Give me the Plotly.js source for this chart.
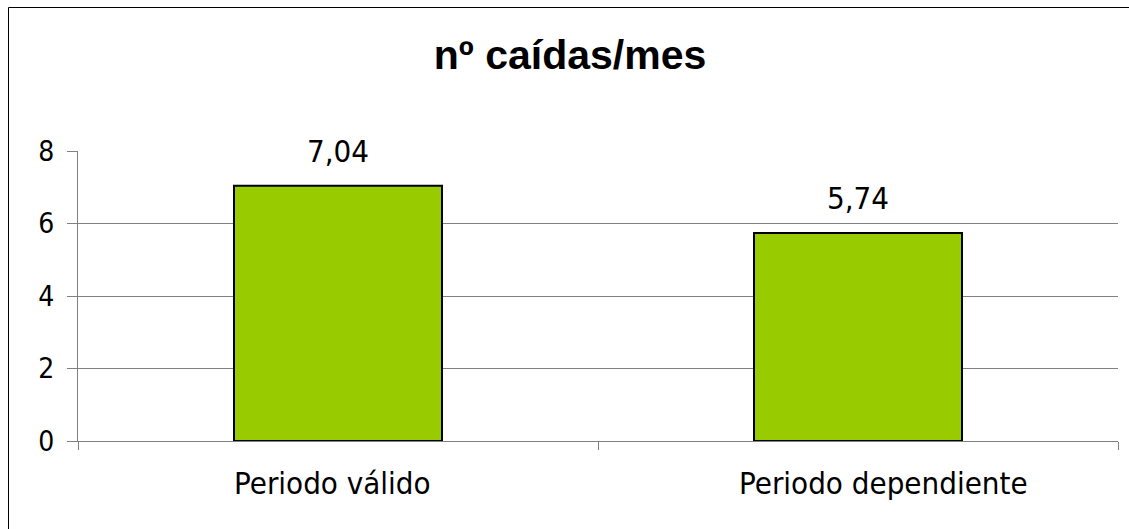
<!DOCTYPE html>
<html><head><meta charset="utf-8">
<script src="https://cdn.plot.ly/plotly-3.0.1.min.js"></script>
<style>html,body{margin:0;padding:0;background:#fff;}#chart{width:1129px;height:529px;}</style>
</head><body><div id="chart"></div>
<script>
const categories = ["Periodo válido", "Periodo dependiente"];
const values = [7.04, 5.74];
const valueLabels = ["7,04", "5,74"];
const yTicks = [0, 2, 4, 6, 8];
const chartTitle = "nº caídas/mes";

const FONT = "'DejaVu Sans Condensed', 'DejaVu Sans', sans-serif";
const labelShift = [-6, 25];
const trace = {
  type: 'bar', x: categories, y: values,
  marker: {color: '#99CC00', line: {color: '#000000', width: 2}},
  hoverinfo: 'none'
};
const valueAnn = categories.map((c, i) => ({
  x: c, y: values[i], xref: 'x', yref: 'y', text: valueLabels[i],
  showarrow: false, yanchor: 'bottom', yshift: 15,
  font: {family: FONT, size: 31, color: '#000'}
}));
const catAnn = categories.map((c, i) => ({
  x: c, y: 0, xref: 'x', yref: 'paper', text: c,
  showarrow: false, yanchor: 'top', yshift: -22, xshift: labelShift[i],
  font: {family: FONT, size: 31, color: '#000'}
}));
const layout = {
  width: 1129, height: 529,
  margin: {l: 78, r: 11, t: 151, b: 88},
  paper_bgcolor: '#fff', plot_bgcolor: '#fff',
  showlegend: false, bargap: 0.6,
  title: {text: '<b>' + chartTitle + '</b>', x: 570/1129, xref: 'container', xanchor: 'center',
    y: 1 - 55/529, yanchor: 'middle',
    font: {family: 'Liberation Sans', size: 41, color: '#000'}},
  xaxis: {type: 'category', showline: true, linecolor: '#808080', linewidth: 1,
    ticks: 'outside', tickson: 'boundaries', ticklen: 8, tickcolor: '#808080', tickwidth: 1,
    showgrid: false, showticklabels: false, fixedrange: true},
  yaxis: {range: [0, 8], tickvals: yTicks, ticktext: yTicks.map(String),
    showline: true, linecolor: '#808080', linewidth: 1,
    ticks: 'outside', ticklen: 10, tickcolor: '#808080', tickwidth: 1,
    showgrid: true, gridcolor: '#808080', gridwidth: 1, zeroline: false,
    ticklabelstandoff: 7,
    tickfont: {family: FONT, size: 28, color: '#000'}, fixedrange: true},
  annotations: valueAnn.concat(catAnn),
  shapes: [{type: 'rect', xref: 'paper', yref: 'paper',
    x0: (8.5 - 78) / 1040, x1: (1140 - 78) / 1040,
    y0: (441 - 540) / 290, y1: (441 - 7.5) / 290,
    line: {color: '#000', width: 1}, fillcolor: 'rgba(0,0,0,0)', layer: 'below'}]
};
Plotly.newPlot('chart', [trace], layout, {staticPlot: true, displayModeBar: false});
</script></body></html>
